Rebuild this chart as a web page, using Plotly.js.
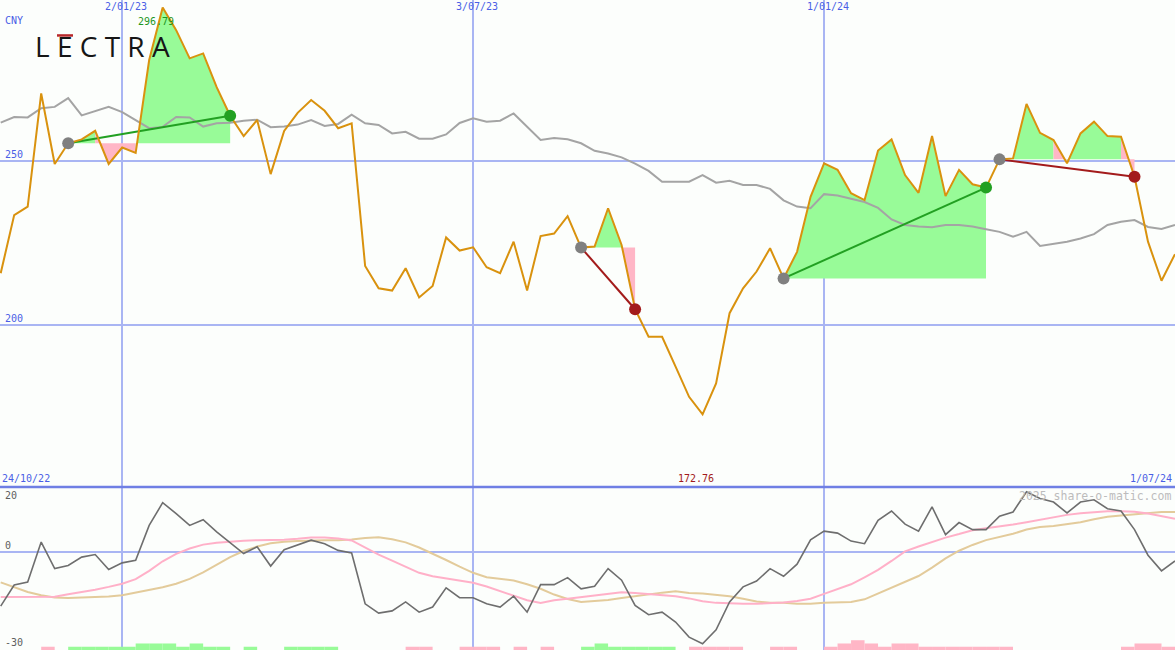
<!DOCTYPE html>
<html><head><meta charset="utf-8">
<script src="https://cdn.plot.ly/plotly-3.0.1.min.js"></script>
<style>html,body{margin:0;padding:0;background:#fcfefc;}#chart{width:1175px;height:650px;}</style>
</head><body><div id="chart"></div>
<script>
// ---------------- DATA ----------------
const firstWeek = '2022-10-31';          // weekly closes, Mondays
const currency = 'CNY';
const logoText = 'L E C T R A';
const watermark = '2025 share-o-matic.com';
const startLabel = '24/10/22';
const endLabel = '1/07/24';
const gridDates = ['2023-01-02', '2023-07-03', '2024-01-01'];
const gridDateLabels = ['2/01/23', '3/07/23', '1/01/24'];
const priceGrid = [200, 250];
const lowerLabels = ['20', '0', '-30'];

const price = [215.8, 233.5, 236.1, 270.6, 249.1, 255.4, 256.6, 259.2, 249.1, 254.1,
  252.5, 280.8, 296.79, 289.9, 281.3, 282.8, 272.5, 263.8, 257.6, 262.5,
  246.0, 259.2, 264.7, 268.6, 265.3, 260.0, 261.5, 218.0, 211.2, 210.5,
  217.3, 208.4, 211.9, 226.7, 222.7, 223.7, 217.6, 215.8, 225.4, 210.5,
  227.1, 227.9, 233.2, 223.6, 223.9, 235.6, 224.4, 204.8, 196.4, 196.4,
  187.3, 178.1, 172.76, 182.2, 203.6, 211.2, 216.3, 223.4, 214.2, 222.3,
  239.1, 249.3, 247.3, 240.2, 238.1, 253.2, 256.6, 245.7, 240.3, 257.6,
  239.3, 247.3, 242.9, 241.9, 250.5, 250.8, 267.4, 258.6, 256.4, 249.3,
  258.4, 262.0, 257.6, 257.4, 245.2, 225.4, 213.5, 221.6];

const priceAvg = [261.7, 263.4, 263.3, 266.1, 266.5, 269.2, 263.9, 265.2, 266.5, 264.9,
  262.4, 260.0, 260.4, 263.4, 263.3, 260.5, 261.5, 261.7, 262.3, 262.6,
  260.3, 260.5, 261.1, 262.5, 260.7, 261.3, 264.1, 261.5, 261.0, 258.4,
  258.9, 256.8, 256.8, 258.1, 261.6, 263.0, 262.0, 262.3, 264.5, 260.4,
  256.4, 257.0, 256.6, 255.4, 253.1, 252.3, 251.1, 249.2, 247.0, 243.7,
  243.7, 243.7, 245.7, 243.4, 244.0, 242.7, 242.7, 241.5, 238.0, 236.1,
  235.6, 239.9, 239.5, 238.4, 237.5, 235.7, 232.2, 230.5, 230.0, 229.8,
  230.5, 230.5, 230.0, 229.2, 228.4, 226.9, 228.4, 224.1, 224.7, 225.4,
  226.4, 227.7, 230.5, 231.5, 232.0, 229.9, 229.3, 230.5];

const momentum = [-16.9, -10.3, -9.4, 3.1, -5.2, -4.2, -1.6, -0.8, -5.5, -3.4,
  -2.6, 8.3, 15.4, 12.0, 8.3, 10.1, 6.3, 2.8, -0.5, 1.6,
  -4.4, 0.7, 2.1, 3.7, 2.6, 0.5, -0.3, -16.2, -19.1, -18.4,
  -15.6, -18.8, -17.2, -11.2, -14.3, -14.3, -16.2, -17.2, -13.8, -18.8,
  -10.2, -10.2, -8.0, -11.5, -10.7, -5.2, -8.8, -16.7, -19.6, -18.8,
  -21.9, -26.6, -28.7, -24.3, -15.6, -10.9, -9.1, -5.2, -7.6, -3.8,
  3.8, 6.5, 5.9, 3.4, 2.6, 9.9, 12.8, 8.7, 6.5, 14.1,
  5.4, 9.2, 7.0, 7.0, 11.2, 12.5, 18.8, 16.7, 15.6, 12.2,
  15.6, 16.3, 13.5, 12.8, 7.0, -1.0, -5.9, -2.8];

const momentumFast = [-14.1, -14.1, -14.1, -14.1, -14.0, -13.2, -12.6, -11.8, -10.9, -9.9,
  -8.5, -5.9, -2.9, -0.6, 1.1, 2.3, 2.9, 3.3, 3.5, 3.7,
  3.7, 3.8, 4.1, 4.5, 4.5, 4.2, 3.6, 1.3, -0.8, -2.7,
  -4.5, -6.5, -7.6, -8.2, -8.8, -9.6, -10.8, -12.2, -13.8, -15.1,
  -15.9, -15.1, -14.6, -14.1, -13.5, -12.9, -12.6, -12.8, -13.2, -13.5,
  -13.8, -14.5, -15.4, -15.9, -16.1, -16.2, -16.2, -16.1, -15.8, -15.3,
  -14.6, -13.1, -11.7, -10.1, -7.9, -5.6, -2.8, 0.2, 1.7, 3.2,
  4.5, 5.6, 6.8, 7.4, 7.9, 8.6, 9.3, 10.1, 10.9, 11.6,
  12.1, 12.5, 12.7, 12.7, 12.6, 12.0, 11.2, 10.4];

const momentumSlow = [-9.5, -11.1, -12.5, -13.5, -14.2, -14.4, -14.3, -14.1, -13.9, -13.5,
  -12.7, -11.8, -11.0, -9.9, -8.4, -6.4, -4.1, -1.6, 0.3, 1.7,
  2.7, 3.2, 3.4, 3.6, 3.7, 3.7, 3.9, 4.4, 4.6, 4.0,
  3.0, 1.4, -0.5, -2.5, -4.6, -6.5, -7.9, -8.3, -8.9, -10.1,
  -11.5, -13.3, -14.7, -15.6, -15.4, -15.0, -14.4, -13.8, -13.3, -12.7,
  -12.3, -12.8, -13.0, -13.5, -13.8, -14.6, -15.5, -15.9, -15.9, -16.2,
  -16.2, -15.9, -15.7, -15.6, -14.8, -13.0, -11.3, -9.5, -7.5, -4.9,
  -2.0, 0.4, 2.2, 3.7, 4.7, 5.7, 7.0, 7.8, 8.1, 8.6,
  9.3, 10.2, 11.0, 11.4, 11.7, 12.1, 12.5, 12.5];

const signalBars = [0, 0, 0, -1, 0, 1, 1, 1, 1, 1,
  2, 2, 2, 1, 2, 1, 1, 0, 1, 0,
  0, 1, 1, 1, 1, 0, 0, 0, 0, 0,
  -1, -1, 0, 0, -1, -1, -1, 0, -1, 0,
  -1, 0, 0, 1, 2, 1, 1, 1, 1, 1,
  0, -1, -1, -1, -1, 0, 0, -1, -1, 0,
  0, -1, -2, -3, -2, -1, -2, -2, -1, -1,
  -1, -1, -1, -1, -1, 0, 0, 0, 0, 0,
  0, 0, 0, -1, -2, -2, -1, 0];

const buyDates = ['2022-12-05', '2023-08-28', '2023-12-11', '2024-04-01'];
const sellDates = ['2023-02-27', '2023-09-25', '2024-03-25', '2024-06-10'];

// ---------------- BUILD ----------------
const DAY = 86400000;
const dates = price.map((_, i) => {
  const d = new Date(Date.parse(firstWeek + 'T00:00:00Z') + i * 7 * DAY);
  return d.toISOString().slice(0, 10);
});

const C = {
  grid: '#a9b5f3', sep: '#6f7fe4', blue: '#4a5ee6', price: '#d9920e', avg: '#a4a4a4',
  green: '#98fb98', pink: '#ffb6c6', gLine: '#22a022', rLine: '#a31b1b', grey: '#808080',
  mom: '#6e6e6e', fast: '#ffb0c8', slow: '#e3cb9b', bg: '#fcfefc'
};
const MONO = 'DejaVu Sans Mono';

const traces = [];

// lower-panel histogram
traces.push({
  type: 'bar', x: dates, y: signalBars.map(v => Math.abs(v)),
  width: 7 * DAY, offset: 0, yaxis: 'y3', xaxis: 'x',
  marker: {color: signalBars.map(v => v >= 0 ? C.green : C.pink), line: {width: 0}},
  hoverinfo: 'skip', showlegend: false
});

// trade fills
const upFill = {x: [], y: []}, dnFill = {x: [], y: []};
const trades = buyDates.map((b, i) => ({b: dates.indexOf(b), s: dates.indexOf(sellDates[i])}));
trades.forEach(t => {
  const base = price[t.b];
  for (let j = t.b; j < t.s; j++) {
    const f = price[j + 1] >= base ? upFill : dnFill;
    f.x.push(dates[j], dates[j + 1], dates[j + 1], dates[j], dates[j], null);
    f.y.push(price[j], price[j + 1], base, base, price[j], null);
  }
});
[[upFill, C.green], [dnFill, C.pink]].forEach(([f, col]) => {
  traces.push({type: 'scatter', mode: 'lines', x: f.x, y: f.y, fill: 'toself',
    fillcolor: col, line: {width: 0, color: col}, hoverinfo: 'skip', showlegend: false});
});

// moving average of price
traces.push({type: 'scatter', mode: 'lines', x: dates, y: priceAvg,
  line: {color: C.avg, width: 2}, hoverinfo: 'skip', showlegend: false});

const maxIdx = price.indexOf(Math.max(...price));
const minIdx = price.indexOf(Math.min(...price));

// trade lines
trades.forEach(t => {
  const win = price[t.s] >= price[t.b];
  traces.push({type: 'scatter', mode: 'lines', x: [dates[t.b], dates[t.s]], y: [price[t.b], price[t.s]],
    line: {color: win ? C.gLine : C.rLine, width: 2}, hoverinfo: 'skip', showlegend: false});
});

// price line
traces.push({type: 'scatter', mode: 'lines', x: dates, y: price,
  line: {color: C.price, width: 2}, hoverinfo: 'skip', showlegend: false});

// trade markers
traces.push({type: 'scatter', mode: 'markers', x: trades.map(t => dates[t.b]), y: trades.map(t => price[t.b]),
  marker: {color: C.grey, size: 12}, hoverinfo: 'skip', showlegend: false});
traces.push({type: 'scatter', mode: 'markers', x: trades.map(t => dates[t.s]), y: trades.map(t => price[t.s]),
  marker: {color: trades.map(t => price[t.s] >= price[t.b] ? C.gLine : C.rLine), size: 12},
  hoverinfo: 'skip', showlegend: false});

// lower panel lines
[[momentumSlow, C.slow], [momentumFast, C.fast], [momentum, C.mom]].forEach(([arr, col]) => {
  traces.push({type: 'scatter', mode: 'lines', x: dates, y: arr, yaxis: 'y2',
    line: {color: col, width: col === C.mom ? 1.6 : 2}, hoverinfo: 'skip', showlegend: false});
});

// ---------------- LAYOUT ----------------
const split = 1 - 487 / 650;
const f10 = col => ({family: MONO, size: 10, color: col});
const ann = [];
gridDates.forEach((d, i) => ann.push({x: d, xref: 'x', y: 1, yref: 'paper', yanchor: 'top', yshift: 1,
  xshift: 4, text: gridDateLabels[i], showarrow: false, font: f10(C.blue)}));
ann.push({x: 0, xref: 'paper', xanchor: 'left', xshift: 3, y: 1, yref: 'paper', yanchor: 'top', yshift: -13,
  text: currency, showarrow: false, font: f10(C.blue)});
priceGrid.forEach(v => ann.push({x: 0, xref: 'paper', xanchor: 'left', xshift: 3, y: v, yref: 'y',
  yanchor: 'bottom', yshift: -1, text: String(v), showarrow: false, font: f10(C.blue)}));
ann.push({x: dates[maxIdx], xref: 'x', xshift: -7, y: price[maxIdx], yref: 'y', yanchor: 'top', yshift: -6,
  text: price[maxIdx].toFixed(2), showarrow: false, font: f10('#1e961e')});
ann.push({x: 0, xref: 'paper', xanchor: 'left', y: split, yref: 'paper', yanchor: 'bottom', yshift: 1,
  text: startLabel, showarrow: false, font: f10(C.blue)});
ann.push({x: 1, xref: 'paper', xanchor: 'right', xshift: -1, y: split, yref: 'paper', yanchor: 'bottom', yshift: 1,
  text: endLabel, showarrow: false, font: f10(C.blue)});
ann.push({x: dates[minIdx], xref: 'x', xshift: -7, y: split, yref: 'paper', yanchor: 'bottom', yshift: 1,
  text: price[minIdx].toFixed(2), showarrow: false, font: f10(C.rLine)});
ann.push({x: 0, xref: 'paper', xanchor: 'left', xshift: 3, y: split, yref: 'paper', yanchor: 'top', yshift: -1,
  text: lowerLabels[0], showarrow: false, font: f10('#5e5e5e')});
ann.push({x: 0, xref: 'paper', xanchor: 'left', xshift: 3, y: 0, yref: 'y2', yanchor: 'bottom', yshift: -1,
  text: lowerLabels[1], showarrow: false, font: f10('#5e5e5e')});
ann.push({x: 0, xref: 'paper', xanchor: 'left', xshift: 3, y: 0, yref: 'paper', yanchor: 'bottom', yshift: 0,
  text: lowerLabels[2], showarrow: false, font: f10('#5e5e5e')});
ann.push({x: 1, xref: 'paper', xanchor: 'right', xshift: -2, y: split, yref: 'paper', yanchor: 'top', yshift: 0,
  text: watermark, showarrow: false, font: {family: MONO, size: 11.5, color: '#bcbcbc'}});
ann.push({x: 33 / 1175, xref: 'paper', xanchor: 'left', y: 1 - 46 / 650, yref: 'paper', yanchor: 'middle',
  text: logoText, showarrow: false, font: {family: 'Open Sans', size: 28, color: '#161616'}});

const layout = {
  width: 1175, height: 650, margin: {l: 0, r: 0, t: 0, b: 0}, autosize: false,
  paper_bgcolor: C.bg, plot_bgcolor: C.bg, showlegend: false, hovermode: false,
  xaxis: {type: 'date', range: ['2022-10-30 15:20', '2024-07-01'], tickvals: gridDates,
    showticklabels: false, ticks: '', showgrid: true, gridcolor: C.grid, gridwidth: 1.5,
    zeroline: false, showline: false, fixedrange: true},
  yaxis: {domain: [split, 1], range: [150.61, 299.09], tickvals: priceGrid, showticklabels: false,
    ticks: '', showgrid: true, gridcolor: C.grid, gridwidth: 2, zeroline: false, showline: false},
  yaxis2: {domain: [0, split], range: [-30.63, 20.31], showticklabels: false, ticks: '',
    showgrid: false, zeroline: true, zerolinecolor: C.grid, zerolinewidth: 2, showline: false},
  yaxis3: {overlaying: 'y2', range: [0, 50], visible: false, showgrid: false, zeroline: false},
  shapes: [
    {type: 'line', xref: 'paper', yref: 'paper', x0: 0, x1: 1, y0: split, y1: split,
      line: {color: C.sep, width: 2.5}},
    {type: 'rect', xref: 'paper', yref: 'paper', x0: 57 / 1175, x1: 73 / 1175,
      y0: 1 - 36.7 / 650, y1: 1 - 34.2 / 650, fillcolor: '#b8282a', line: {width: 0}}
  ],
  annotations: ann
};

Plotly.newPlot('chart', traces, layout, {staticPlot: true, displayModeBar: false});
</script></body></html>
